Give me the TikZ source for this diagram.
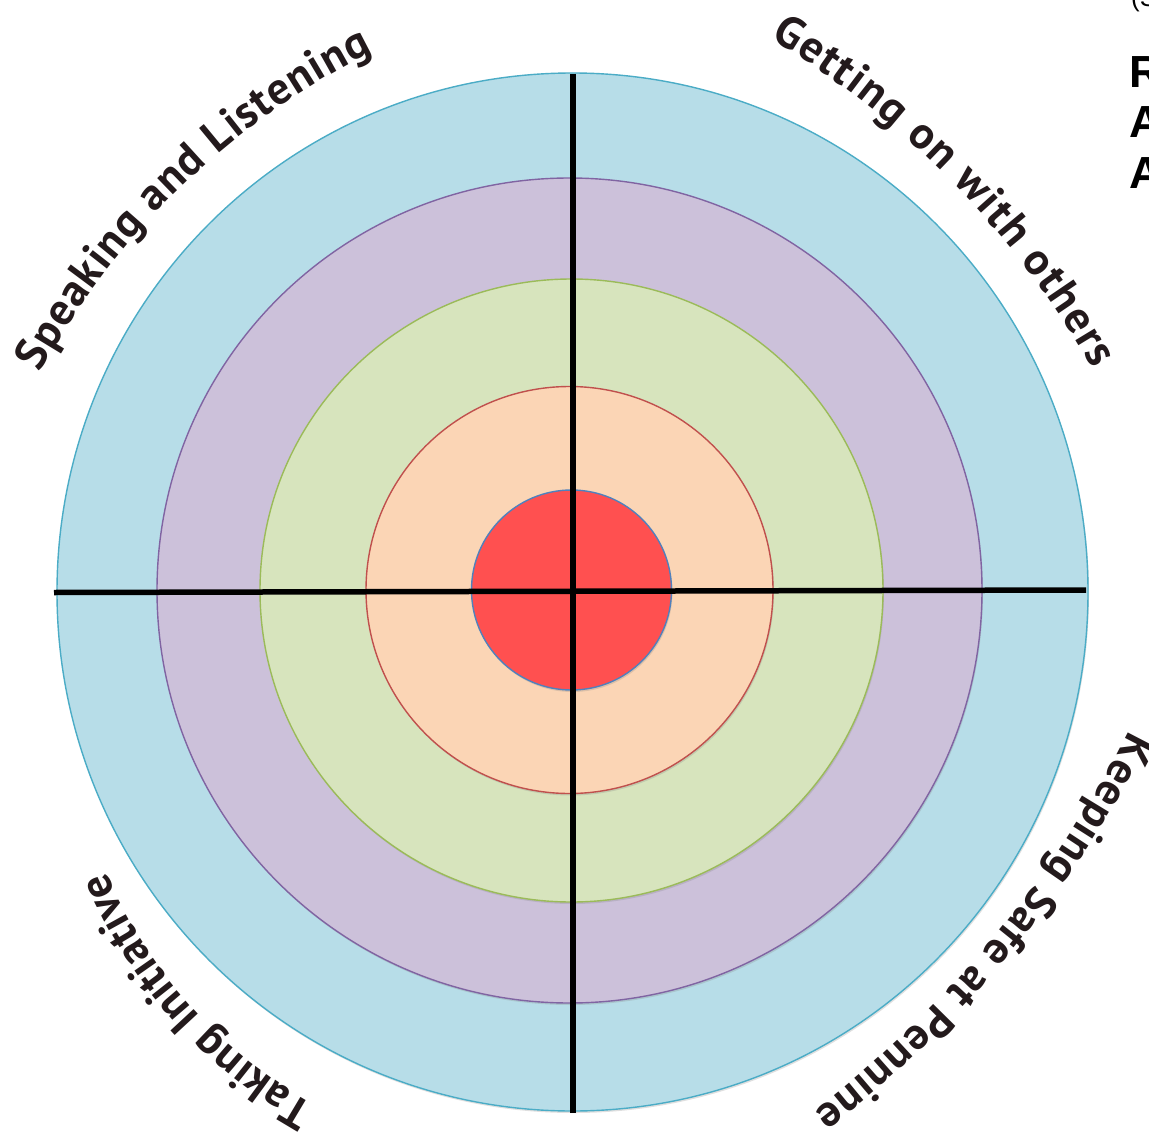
\documentclass[tikz,border=0pt]{standalone}
\usepackage{fontspec}
\newfontfamily\labelfam{PT Sans}
\newfontfamily\sidefam{Liberation Sans}
\usetikzlibrary{shapes.geometric,decorations.text,shadows}
\definecolor{blueFill}{HTML}{B7DDE8}
\definecolor{blueLine}{HTML}{4BACC6}
\definecolor{purpleFill}{HTML}{CCC1DA}
\definecolor{purpleLine}{HTML}{8064A2}
\definecolor{greenFill}{HTML}{D7E4BD}
\definecolor{greenLine}{HTML}{9BBB59}
\definecolor{peachFill}{HTML}{FBD5B5}
\definecolor{peachLine}{HTML}{C0504D}
\definecolor{redFill}{HTML}{FF5050}
\definecolor{redLine}{HTML}{4F81BD}
\definecolor{labelInk}{HTML}{231A1C}
\newcommand\arcfont{\labelfam\bfseries\fontsize{45}{50}\selectfont}
\begin{document}
\begin{tikzpicture}[x=1pt,y=-1pt,
  ring/.style={draw, line width=1.4pt, inner sep=0pt, outer sep=0pt,
    drop shadow={opacity=0.25, shadow xshift=1pt, shadow yshift=-2pt}},
  roundring/.style={ring, circle, minimum size=#1},
  crossline/.style={line width=5.5pt, black},
  sidetext/.style={font=\sidefam\bfseries\fontsize{45}{50}\selectfont, anchor=base west, inner sep=0pt},
  textarc/.style={decorate, decoration={text along path, text align={fit to path}, raise=-11pt, text color=labelInk}}
]
\useasboundingbox (0,0) rectangle (1149,1132);
\fill[white] (0,0) rectangle (1149,1132);

% rings
\node[ring, ellipse, minimum width=1031pt, minimum height=1038pt, fill=blueFill, draw=blueLine] (outer) at (572.5,592) {};
\node[roundring=825pt, fill=purpleFill, draw=purpleLine] (purple) at (569.5,590.5) {};
\node[roundring=623pt, fill=greenFill, draw=greenLine] (green) at (571.5,590.5) {};
\node[roundring=407pt, fill=peachFill, draw=peachLine] (peach) at (569.5,590) {};
\node[roundring=200pt, fill=redFill, draw=redLine] (bull) at (571.5,590) {};

% cross
\coordinate (vtop) at (573,74);
\coordinate (vbot) at (573,1113);
\coordinate (hleft) at (54,592.5);
\coordinate (hright) at (1086,590);
\draw[crossline] (vtop) -- (vbot);
\draw[crossline] (hleft) -- (hright);

% curved labels
\path[textarc, decoration={text={|\arcfont|Speaking and Listening}}]
  ([shift={(151.4:783.4pt)}]718.2,742.3) arc[start angle=151.4, end angle=116.6, radius=783.4pt];
\path[textarc, decoration={text={|\arcfont|Getting on with others}}]
  ([shift={(58.97:918.5pt)}]303.0,816.1) arc[start angle=58.97, end angle=29.51, radius=918.5pt];
\path[textarc, decoration={text={|\arcfont|Keeping Safe at Pennine}}]
  ([shift={(-26.75:1125pt)}]134.3,229.0) arc[start angle=-26.75, end angle=-52.43, radius=1125pt];
\path[textarc, decoration={text={|\arcfont|Taking Initiative}}]
  ([shift={(240.64:493.8pt)}]550.8,684.1) arc[start angle=240.64, end angle=202.87, radius=493.8pt];

% cut-off text at the right edge
\node[font=\sidefam\fontsize{26}{30}\selectfont, anchor=base west, inner sep=0pt] (sfrag) at (1131,7) {(S};
\node[sidetext] (rfrag) at (1129,88) {R};
\node[sidetext] (afrag1) at (1129,137.5) {A};
\node[sidetext] (afrag2) at (1129,188) {A};
\end{tikzpicture}
\end{document}
